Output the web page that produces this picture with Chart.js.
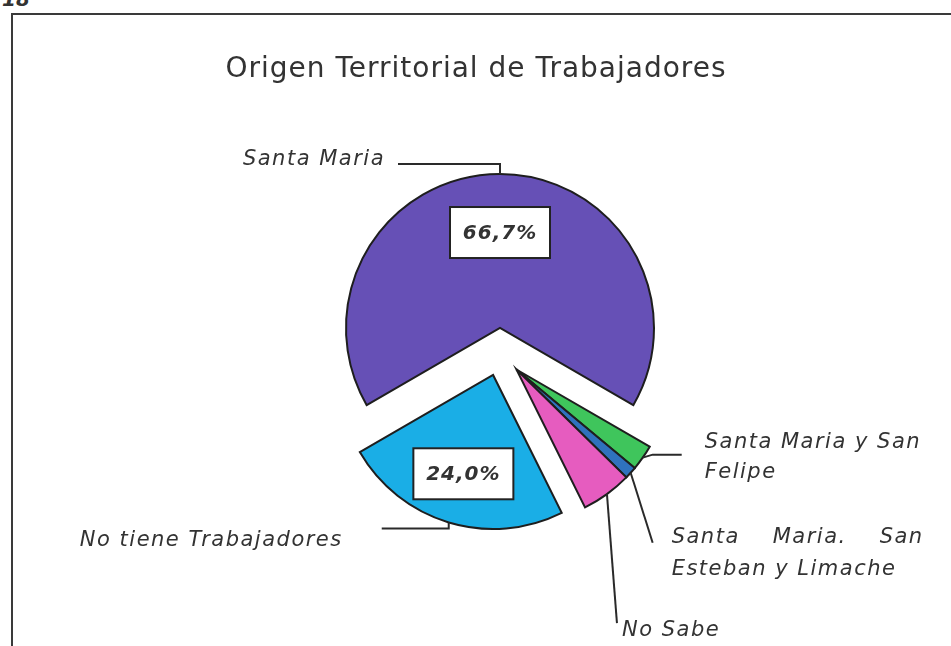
<!DOCTYPE html>
<html>
<head>
<meta charset="utf-8">
<script src="https://cdn.jsdelivr.net/npm/chart.js@4.4.1/dist/chart.umd.min.js"></script>
<style>
  html, body { margin: 0; padding: 0; background: #ffffff; overflow: hidden; }
  #wrap { position: relative; width: 951px; height: 646px; }
  #frame { position: absolute; left: 11px; top: 13px; width: 960px; height: 660px;
           border-top: 2px solid #3a3a3a; border-left: 2px solid #3a3a3a; }
  #pg { position: absolute; left: 2px; top: -13px; font: italic bold 20px "DejaVu Sans", sans-serif; color: #333; }
  canvas { position: absolute; left: 0; top: 0; }
</style>
</head>
<body>
<div id="wrap">
  <div id="frame"></div>
  <div id="pg">18</div>
  <canvas id="c0" width="951" height="646"></canvas>
  <canvas id="c1" width="951" height="646"></canvas>
  <canvas id="c2" width="951" height="646"></canvas>
</div>
<script>
// ---- data ----
const chartTitle = 'Origen Territorial de Trabajadores';
const categories = ['Santa Maria', 'Santa Maria y San Felipe', 'Santa Maria. San Esteban y Limache', 'No Sabe', 'No tiene Trabajadores'];
const percentages = [66.7, 2.7, 1.3, 5.3, 24.0];
const percentLabels = ['66,7%', '', '', '', '24,0%'];
const labelLines = [['Santa Maria'], ['Santa Maria y San', 'Felipe'], ['Santa Maria.', 'San', 'Esteban y Limache'], ['No Sabe'], ['No tiene Trabajadores']];

// ---- styles ----
const sliceColors = ['#6650b6', '#3fc55c', '#2f72bd', '#e65cbf', '#1aaee6'];
const ROTATION = -120.06;     // degrees, purple slice centred at the top
const RADIUS = 154;
const CENTER = [500, 352];
const EXPLODE = 24;
// exploded groups: the small slices are pulled out together
const groups = [[0], [4], [1, 2, 3]];
// leader line segments (relative moves from arc outer midpoint) and label anchor (relative to leader end)
const leaders = [
  { segs: [[0, -10], [-102, 0]], label: [-13, -4], align: 'right' },
  { segs: [[10, -3], [29, 0]], label: [23, -12], align: 'left' },
  { segs: [[22, 70]], label: [19, -5], align: 'left', justify: 252 },
  { segs: [[10, 129]], label: [5, 7], align: 'left' },
  { segs: [[0, 6], [-67, 0]], label: [-39, 12], align: 'right' }
];
const boxFrac = [0.62, 0, 0, 0, 0.67];

const total = percentages.reduce((a, b) => a + b, 0);
function groupDirection(idx) {
  // bisector of the group's angular span (clockwise from top)
  let acc = 0, start = null, end = null;
  percentages.forEach((v, i) => {
    const a0 = acc; acc += v / total * 360;
    if (idx.includes(i)) { if (start === null) start = a0; end = acc; }
  });
  const m = (ROTATION + (start + end) / 2) * Math.PI / 180;
  return [Math.sin(m), -Math.cos(m)];
}

function makePlugin(visible, drawTitle) {
  return {
    id: 'pieLabels',
    afterDatasetsDraw(chart) {
      const ctx = chart.ctx;
      const meta = chart.getDatasetMeta(0);
      ctx.save();
      if (drawTitle) {
        ctx.fillStyle = '#333';
        ctx.font = '28px "DejaVu Sans", sans-serif';
        ctx.letterSpacing = '1px';
        ctx.textAlign = 'center';
        ctx.textBaseline = 'middle';
        ctx.fillText(chartTitle, 476, 70);
      }
      meta.data.forEach((arc, i) => {
        if (!visible.includes(i)) return;
        const p = arc.getProps(['x', 'y', 'startAngle', 'endAngle', 'outerRadius'], true);
        const mid = (p.startAngle + p.endAngle) / 2;
        const dx = Math.cos(mid), dy = Math.sin(mid);
        const L = leaders[i];
        let x = p.x + dx * p.outerRadius;
        let y = p.y + dy * p.outerRadius;
        ctx.strokeStyle = '#2a2a2a';
        ctx.lineWidth = 2;
        ctx.beginPath();
        ctx.moveTo(x, y);
        L.segs.forEach(s => { x += s[0]; y += s[1]; ctx.lineTo(x, y); });
        ctx.stroke();
        ctx.fillStyle = '#333';
        ctx.font = 'italic 21px "DejaVu Sans", sans-serif';
        ctx.letterSpacing = '1.5px';
        ctx.textBaseline = 'middle';
        const lx = x + L.label[0], ly = y + L.label[1];
        const lines = labelLines[i];
        if (L.justify) {
          ctx.textAlign = 'left';
          const w0 = lines[0].split(' ');
          const words = [w0[0], w0[1], lines[1]];
          const tw = words.reduce((a, w) => a + ctx.measureText(w).width, 0);
          const gap = (L.justify - tw) / (words.length - 1);
          let cx = lx;
          words.forEach(w => { ctx.fillText(w, cx, ly); cx += ctx.measureText(w).width + gap; });
          ctx.fillText(lines[2], lx, ly + 32);
        } else {
          ctx.textAlign = L.align;
          lines.forEach((t, k) => ctx.fillText(t, lx, ly + k * 30));
        }
        if (percentLabels[i]) {
          const d = boxFrac[i] * p.outerRadius;
          const bx = p.x + dx * d, by = p.y + dy * d;
          const bw = 100, bh = 51;
          ctx.fillStyle = '#ffffff';
          ctx.fillRect(bx - bw / 2, by - bh / 2, bw, bh);
          ctx.strokeStyle = '#222';
          ctx.lineWidth = 2;
          ctx.strokeRect(bx - bw / 2, by - bh / 2, bw, bh);
          ctx.fillStyle = '#333';
          ctx.font = 'italic bold 20px "DejaVu Sans", sans-serif';
          ctx.letterSpacing = '1px';
          ctx.textAlign = 'center';
          ctx.fillText(percentLabels[i], bx, by + 1);
        }
      });
      ctx.restore();
    }
  };
}

function paddingFor(cx, cy, W, H) {
  const pad = { left: 0, right: 0, top: 0, bottom: 0 };
  if (cx >= W / 2) pad.left = 2 * cx - W; else pad.right = W - 2 * cx;
  if (cy >= H / 2) pad.top = 2 * cy - H; else pad.bottom = H - 2 * cy;
  return pad;
}

groups.forEach((g, k) => {
  const dir = groupDirection(g);
  const cx = CENTER[0] + dir[0] * EXPLODE;
  const cy = CENTER[1] + dir[1] * EXPLODE;
  const show = i => g.includes(i);
  new Chart(document.getElementById('c' + k), {
    type: 'pie',
    data: {
      labels: categories,
      datasets: [{
        data: percentages,
        backgroundColor: sliceColors.map((c, i) => show(i) ? c : 'rgba(0,0,0,0)'),
        borderColor: sliceColors.map((c, i) => show(i) ? '#1e1e1e' : 'rgba(0,0,0,0)'),
        borderWidth: sliceColors.map((c, i) => show(i) ? 2 : 0),
        borderJoinStyle: 'miter'
      }]
    },
    options: {
      responsive: false,
      animation: false,
      radius: RADIUS,
      rotation: ROTATION,
      layout: { padding: paddingFor(cx, cy, 951, 646) },
      plugins: { legend: { display: false }, tooltip: { enabled: false } },
      events: []
    },
    plugins: [makePlugin(g, k === 0)]
  });
});
</script>
</body>
</html>
